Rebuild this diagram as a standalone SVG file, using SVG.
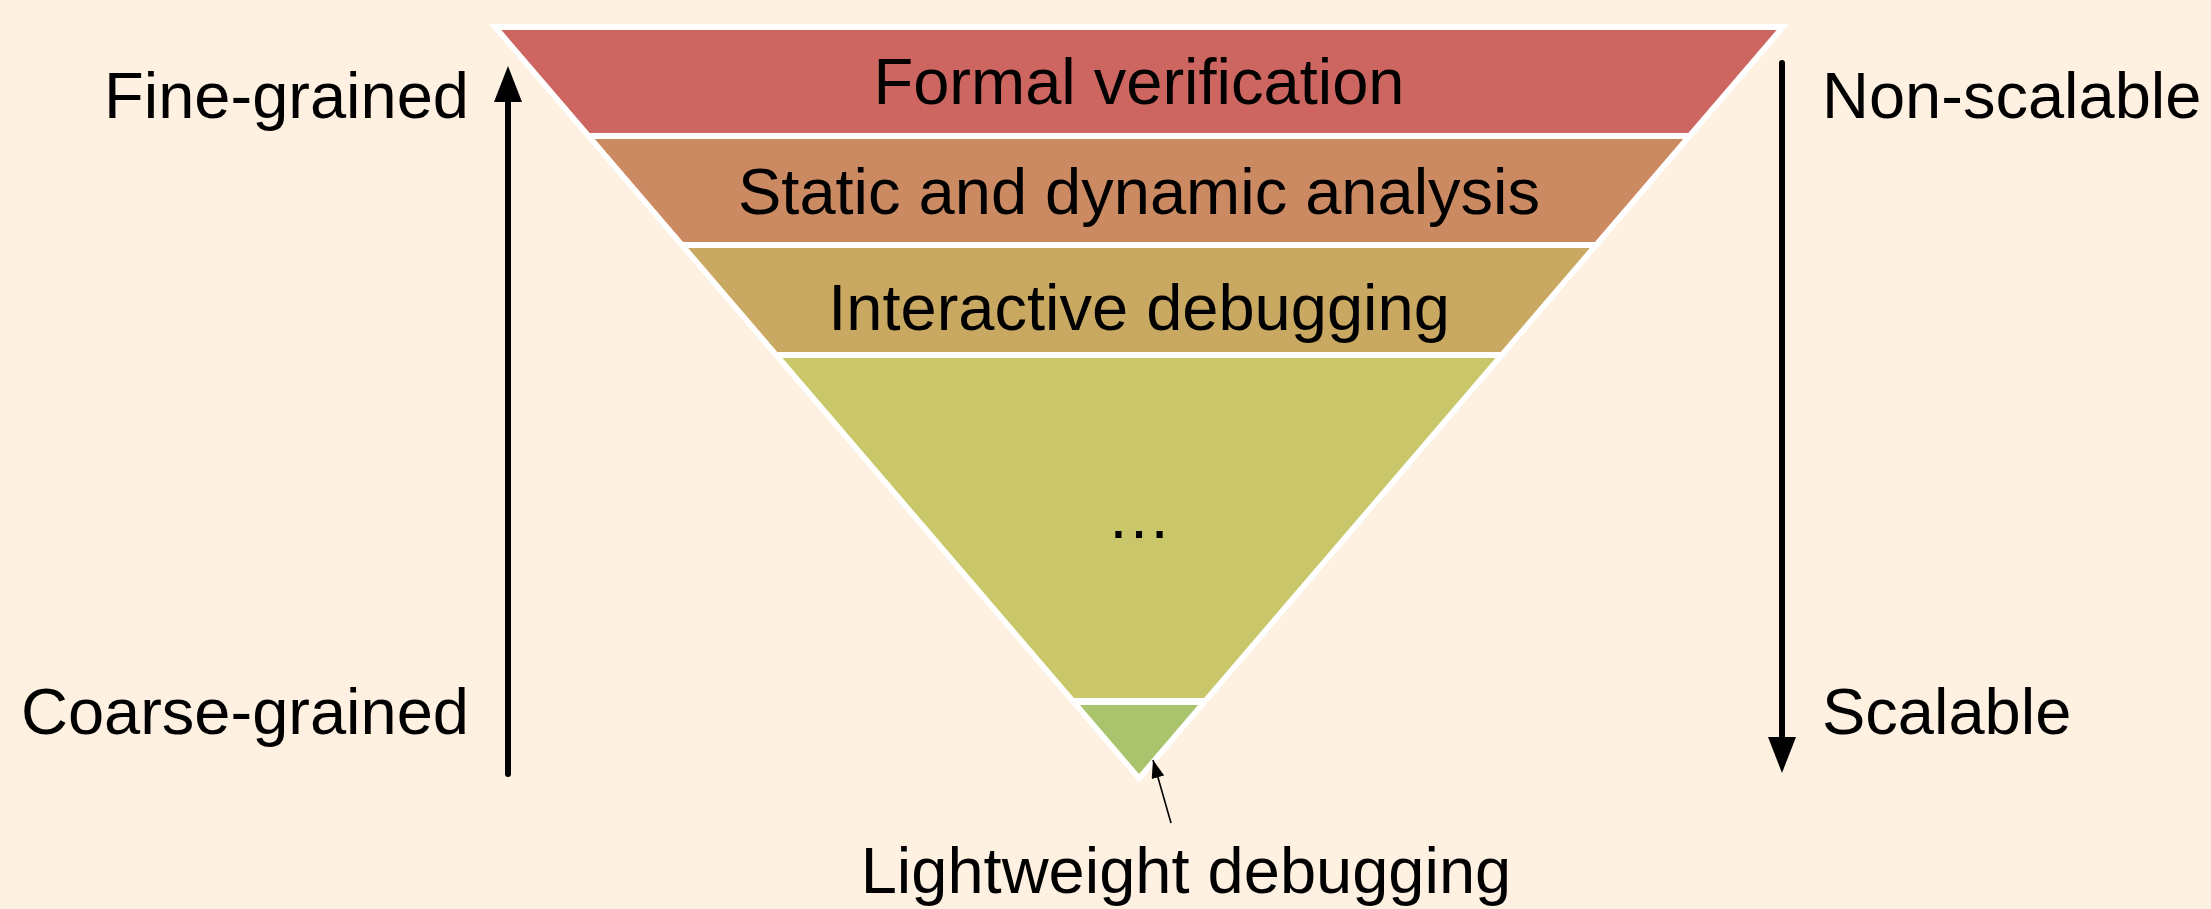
<svg xmlns="http://www.w3.org/2000/svg" width="2211" height="909" viewBox="0 0 2211 909">
<style>
  text { font-family: "Liberation Sans", Arial, Helvetica, sans-serif; font-size: 65px; fill: #000; }
  .mid { text-anchor: middle; }
  .end { text-anchor: end; }
  .axis { stroke: #000; stroke-width: 6; stroke-linecap: round; fill: none; }
  .pointer { stroke: #000; stroke-width: 1.6; fill: none; }
</style>
<defs>
  <marker id="bigHead" viewBox="0 0 36 28" refX="6" refY="14" markerWidth="36" markerHeight="28" markerUnits="userSpaceOnUse" orient="auto">
    <path d="M0,0 L36,14 L0,28 Z" fill="#000"/>
  </marker>
  <marker id="smallHead" viewBox="0 0 18 13" refX="18" refY="6.5" markerWidth="18" markerHeight="13" markerUnits="userSpaceOnUse" orient="auto">
    <path d="M0,0 L18,6.5 L0,13 Z" fill="#000"/>
  </marker>
</defs>
<rect width="2211" height="909" fill="#FEF1E2"/>

<g id="pyramid-outline">
  <polygon points="491,25 1787,25 1139,781" fill="#FFFFFF" stroke="#FFFFFF" stroke-width="2" stroke-linejoin="round"/>
</g>

<g id="node-formal-verification">
  <polygon points="501.4,30 1776.6,30 1688.3,133 589.7,133" fill="#CD6660"/>
  <text class="mid" x="1139" y="104">Formal verification</text>
</g>
<g id="node-static-dynamic">
  <polygon points="594.8,139 1683.2,139 1594.9,242 683.1,242" fill="#CC8A62"/>
  <text class="mid" x="1139" y="214">Static and dynamic analysis</text>
</g>
<g id="node-interactive">
  <polygon points="688.2,248 1589.8,248 1500.7,352 777.3,352" fill="#C9A862"/>
  <text class="mid" x="1139" y="330">Interactive debugging</text>
</g>
<g id="node-ellipsis">
  <polygon points="782.5,358 1495.5,358 1204.1,698 1073.9,698" fill="#CAC76A"/>
  <text class="mid" x="1139" y="538">…</text>
</g>
<g id="node-lightweight">
  <polygon points="1079.9,705 1198.1,705 1139,774" fill="#A9C46C"/>
  <text class="mid" x="1186" y="893">Lightweight debugging</text>
</g>

<g id="label-fine">
  <text class="end" x="469" y="118">Fine-grained</text>
</g>
<g id="label-coarse">
  <text class="end" x="469" y="734">Coarse-grained</text>
</g>
<g id="label-nonscalable">
  <text x="1822" y="118">Non-scalable</text>
</g>
<g id="label-scalable">
  <text x="1822" y="734">Scalable</text>
</g>

<g id="connectors">
  <line class="axis" x1="508" y1="774" x2="508" y2="96" marker-end="url(#bigHead)"/>
  <line class="axis" x1="1782" y1="63" x2="1782" y2="743" marker-end="url(#bigHead)"/>
  <line class="pointer" x1="1171" y1="823" x2="1153" y2="760" marker-end="url(#smallHead)"/>
</g>
</svg>
